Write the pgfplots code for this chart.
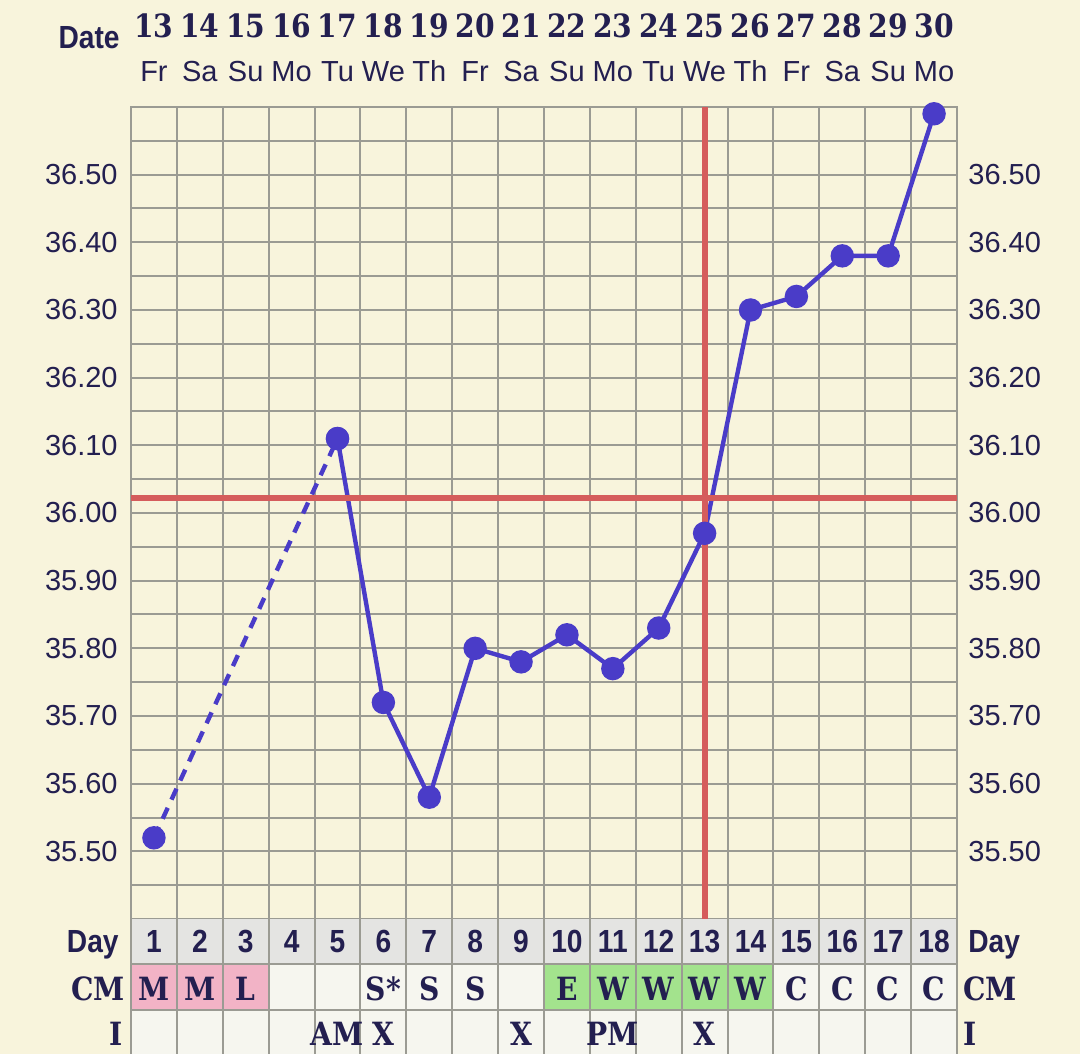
\documentclass[border=0pt]{standalone}
\usepackage{fontspec}
\setmainfont{Liberation Sans}
\newfontfamily\slab[FakeStretch=0.88]{DejaVu Serif}
\newfontfamily\bsans[FakeStretch=0.88]{Liberation Sans}
\usepackage{pgfplots}
\pgfplotsset{compat=1.18}
\definecolor{bg}{HTML}{F8F4DC}
\definecolor{gridc}{HTML}{9B9B93}
\definecolor{navy}{HTML}{231F50}
\definecolor{blueline}{HTML}{4A3CC8}
\definecolor{redc}{HTML}{D55C5C}
\definecolor{dayc}{HTML}{E4E4E2}
\definecolor{cellc}{HTML}{F6F6EF}
\definecolor{pinkc}{HTML}{F2B3C6}
\definecolor{greenc}{HTML}{A3E38D}
\newcommand{\numf}{\fontsize{16}{18}\selectfont\bsans\bfseries}
\newcommand{\slabf}{\fontsize{16}{18}\selectfont\slab\bfseries}
\newcommand{\regf}{\fontsize{14.5}{17}\selectfont}
\begin{document}
\begin{tikzpicture}[x=1pt,y=1pt]
\path[use as bounding box, fill=bg] (-65.5,-67.5) rectangle (474.5,459.5);
\begin{axis}[
  at={(0,0)}, anchor=south west,
  scale only axis, width=413pt, height=406pt,
  xmin=0.5, xmax=18.5, ymin=35.40, ymax=36.60,
  clip=false,
  axis line style={draw=gridc, line width=1pt},
  xtick={1,2,3,4,5,6,7,8,9,10,11,12,13,14,15,16,17,18},
  xticklabels={13,14,15,16,17,18,19,20,21,22,23,24,25,26,27,28,29,30},
  xticklabel pos=upper,
  xticklabel style={anchor=base, yshift=34.5pt, font=\slabf, text=navy},
  minor xtick={0.5,1.5,...,18.5},
  ytick={35.5,35.6,35.7,35.8,35.9,36.0,36.1,36.2,36.3,36.4,36.5},
  minor ytick={35.45,35.55,35.65,35.75,35.85,35.95,36.05,36.15,36.25,36.35,36.45,36.55},
  xmajorgrids=false, xminorgrids=true, ymajorgrids=true, yminorgrids=true,
  major grid style={draw=gridc, line width=1pt},
  minor grid style={draw=gridc, line width=1pt},
  major tick length=0pt, minor tick length=0pt,
  yticklabel style={font=\regf, text=navy, anchor=east, inner sep=0pt, xshift=-6.5pt},
  /pgf/number format/fixed, /pgf/number format/fixed zerofill,
  /pgf/number format/precision=2, /pgf/number format/assume math mode=true,
]
% temperature data
\addplot[line width=2.2pt, color=blueline, dash pattern=on 6pt off 4.5pt,
  mark=*, mark size=4.75pt, mark options={solid, fill=blueline, draw=blueline}]
  coordinates {(1,35.52)(5,36.11)};
\addplot[line width=2.2pt, color=blueline,
  mark=*, mark size=4.75pt, mark options={solid, fill=blueline, draw=blueline}]
  coordinates {(5,36.11)(6,35.72)(7,35.58)(8,35.80)(9,35.78)(10,35.82)(11,35.77)
  (12,35.83)(13,35.97)(14,36.30)(15,36.32)(16,36.38)(17,36.38)(18,36.59)};
% coverline and ovulation day
\addplot[redc, line width=3pt] coordinates {(0.5,36.022)(18.5,36.022)};
\addplot[redc, line width=3pt] coordinates {(13,35.40)(13,36.60)};
% table below
\fill[dayc] (axis cs:0.5,35.40) rectangle (axis cs:18.5,35.3335);
\fill[cellc] (axis cs:0.5,35.3335) rectangle (axis cs:18.5,35.2005);
\fill[pinkc] (axis cs:0.5,35.3335) rectangle (axis cs:3.5,35.2655);
\fill[greenc] (axis cs:9.5,35.3335) rectangle (axis cs:14.5,35.2655);
\draw[gridc, line width=1pt] (axis cs:0.5,35.3335) -- (axis cs:18.5,35.3335);
\draw[gridc, line width=1pt] (axis cs:0.5,35.2655) -- (axis cs:18.5,35.2655);
\pgfplotsinvokeforeach{0.5,1.5,...,18.5}{
  \draw[gridc, line width=1pt] (axis cs:#1,35.40) -- (axis cs:#1,35.2005);
}
\pgfplotsinvokeforeach{1,...,18}{
  \node[anchor=base, font=\numf, text=navy, inner sep=0pt] at (axis cs:#1,35.3498) {#1};
}
\newcommand{\cm}[2]{\node[anchor=base, font=\slabf, text=navy, inner sep=0pt] at (axis cs:#1,35.2800) {#2};}
\cm{1}{M}\cm{2}{M}\cm{3}{L}\cm{6}{S*}\cm{7}{S}\cm{8}{S}
\cm{10}{E}\cm{11}{W}\cm{12}{W}\cm{13}{W}\cm{14}{W}
\cm{15}{C}\cm{16}{C}\cm{17}{C}\cm{18}{C}
\newcommand{\ii}[2]{\node[anchor=base, font=\slabf, text=navy, inner sep=0pt] at (axis cs:#1,35.2138) {#2};}
\ii{5}{AM}\ii{6}{X}\ii{9}{X}\ii{11}{PM}\ii{13}{X}
% row labels
\node[anchor=base east, font=\numf, text=navy, inner sep=0pt] at (axis cs:0.5,35.3498) [xshift=-6pt] {Day};
\node[anchor=base east, font=\slabf, text=navy, inner sep=0pt] at (axis cs:0.5,35.2800) [xshift=-3pt] {CM};
\node[anchor=base east, font=\slabf, text=navy, inner sep=0pt] at (axis cs:0.5,35.2138) [xshift=-4pt] {I};
\node[anchor=base west, font=\numf, text=navy, inner sep=0pt] at (axis cs:18.5,35.3498) [xshift=5.5pt] {Day};
\node[anchor=base west, font=\slabf, text=navy, inner sep=0pt] at (axis cs:18.5,35.2800) [xshift=3pt] {CM};
\node[anchor=base west, font=\slabf, text=navy, inner sep=0pt] at (axis cs:18.5,35.2138) [xshift=3pt] {I};
\node[anchor=base east, font=\numf, text=navy, inner sep=0pt] at (axis cs:0.5,36.687) [xshift=-5.5pt] {Date};
\end{axis}
\begin{axis}[
  at={(0,0)}, anchor=south west,
  scale only axis, width=413pt, height=406pt,
  xmin=0.5, xmax=18.5, ymin=35.40, ymax=36.60,
  axis line style={draw=none},
  major tick length=0pt,
  xtick={1,2,3,4,5,6,7,8,9,10,11,12,13,14,15,16,17,18},
  xticklabels={Fr,Sa,Su,Mo,Tu,We,Th,Fr,Sa,Su,Mo,Tu,We,Th,Fr,Sa,Su,Mo},
  xticklabel pos=upper,
  xticklabel style={anchor=base, yshift=12.5pt, font=\regf, text=navy},
  ytick={35.5,35.6,35.7,35.8,35.9,36.0,36.1,36.2,36.3,36.4,36.5},
  yticklabel pos=right,
  yticklabel style={font=\regf, text=navy, anchor=west, inner sep=0pt, xshift=5.5pt},
  /pgf/number format/fixed, /pgf/number format/fixed zerofill,
  /pgf/number format/precision=2, /pgf/number format/assume math mode=true,
]
\addplot[draw=none] coordinates {(1,36)};
\end{axis}
\end{tikzpicture}
\end{document}
